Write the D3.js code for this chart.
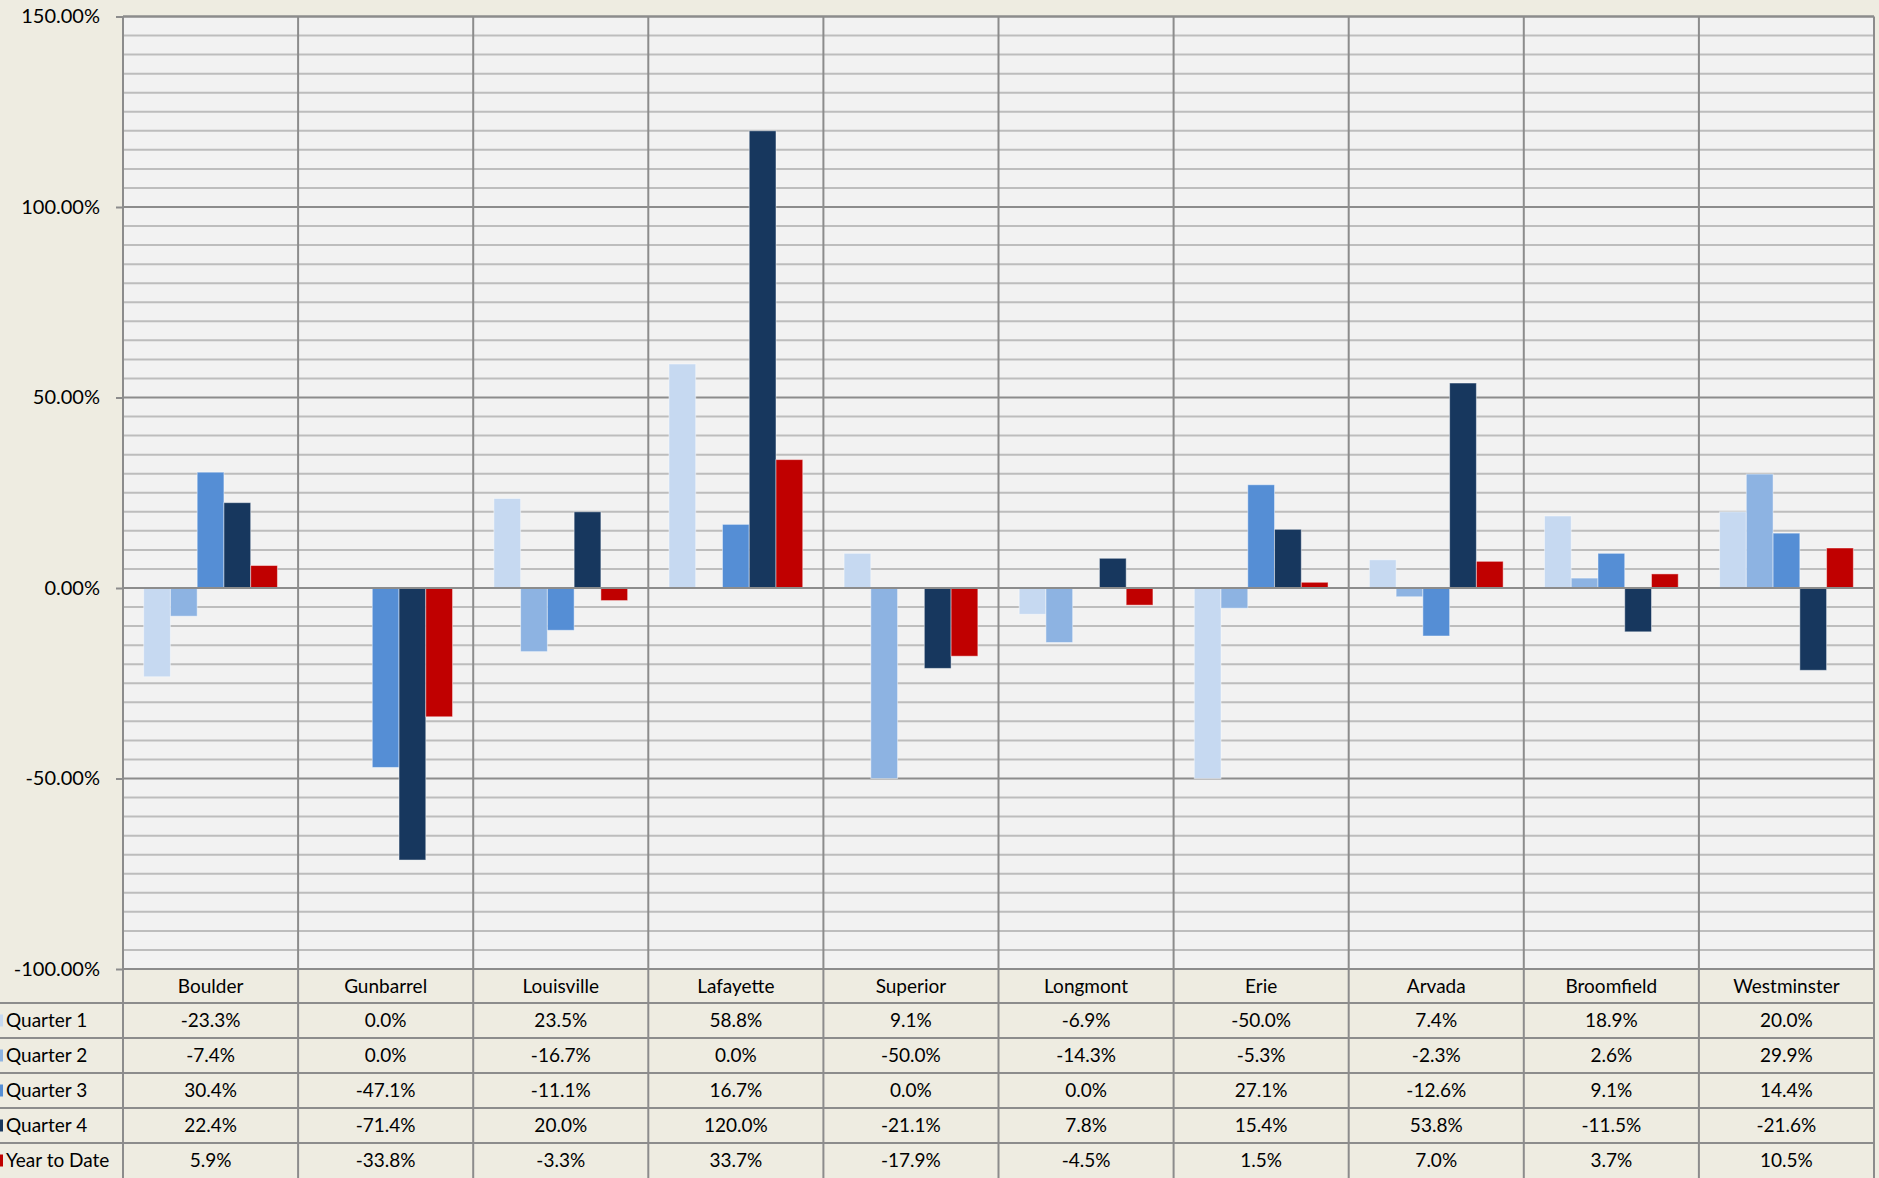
<!DOCTYPE html>
<html>
<head>
<meta charset="utf-8">
<script src="https://cdn.jsdelivr.net/npm/d3@7"></script>
<style>
	html, body { margin: 0; padding: 0; background: #eeece1; }
	svg { display: block; font-family: Lato, 'Open Sans', sans-serif; }
</style>
</head>
<body>
<svg id="chart"></svg>
<script>
const WIDTH = 1879;
const HEIGHT = 1178;

const CATEGORIES = ['Boulder', 'Gunbarrel', 'Louisville', 'Lafayette', 'Superior', 'Longmont', 'Erie', 'Arvada', 'Broomfield', 'Westminster'];
const SERIES = ['Quarter 1', 'Quarter 2', 'Quarter 3', 'Quarter 4', 'Year to Date'];
const COLORS = ['#c6d9f1', '#8db3e2', '#558ed5', '#17375e', '#c00000'];

const Q1 = [-23.3, 0.0, 23.5, 58.8, 9.1, -6.9, -50.0, 7.4, 18.9, 20.0];
const Q2 = [-7.4, 0.0, -16.7, 0.0, -50.0, -14.3, -5.3, -2.3, 2.6, 29.9];
const Q3 = [30.4, -47.1, -11.1, 16.7, 0.0, 0.0, 27.1, -12.6, 9.1, 14.4];
const Q4 = [22.4, -71.4, 20.0, 120.0, -21.1, 7.8, 15.4, 53.8, -11.5, -21.6];
const YTD = [5.9, -33.8, -3.3, 33.7, -17.9, -4.5, 1.5, 7.0, 3.7, 10.5];
const VALUES = [Q1, Q2, Q3, Q4, YTD];

const Y_TICKS = [-1, -0.5, 0, 0.5, 1, 1.5];

const plot = { left: 123, right: 1874, top: 16.5, bottom: 969 };
const HEADER_H = 34;
const ROW_H = 35;
const GRID = '#8c8c8c';
const MINOR = '#bdbdbd';
const TABLE_FONT = 19;

// excel-style hyphen minus
const locale = d3.formatLocale({ decimal: '.', thousands: ',', grouping: [3], currency: ['$', ''], minus: '-' });
const fmtTick = locale.format('.2%');
const fmtVal = locale.format('.1f');

const svg = d3.select('#chart').attr('width', WIDTH).attr('height', HEIGHT);

const x = d3.scaleBand().domain(CATEGORIES).range([plot.left, plot.right]).padding(0);
const y = d3.scaleLinear().domain([-1, 1.5]).range([plot.bottom, plot.top]);
const gap = x.bandwidth() * 0.118;
const xs = d3.scaleBand().domain(SERIES).range([gap, x.bandwidth() - gap]).padding(0);

// plot background
svg.append('rect')
	.attr('x', plot.left).attr('y', plot.top)
	.attr('width', plot.right - plot.left).attr('height', plot.bottom - plot.top)
	.attr('fill', '#f2f2f2');

// minor gridlines every 5%
const minor = d3.range(-100, 151, 5).filter(v => v % 50 !== 0).map(v => v / 100);
svg.append('g').selectAll('line').data(minor).join('line')
	.attr('x1', plot.left).attr('x2', plot.right)
	.attr('y1', d => y(d)).attr('y2', d => y(d))
	.attr('stroke', MINOR).attr('stroke-width', 2);

// major gridlines
svg.append('g').selectAll('line').data(Y_TICKS).join('line')
	.attr('x1', plot.left).attr('x2', plot.right)
	.attr('y1', d => y(d)).attr('y2', d => y(d))
	.attr('stroke', GRID).attr('stroke-width', 2);

// bars
const groups = svg.append('g').selectAll('g').data(CATEGORIES).join('g')
	.attr('transform', d => `translate(${x(d)},0)`);

groups.selectAll('rect')
	.data((c, i) => SERIES.map((s, j) => ({ s, j, v: VALUES[j][i] / 100 })))
	.join('rect')
	.attr('x', d => xs(d.s))
	.attr('width', xs.bandwidth())
	.attr('y', d => y(Math.max(0, d.v)))
	.attr('height', d => Math.abs(y(d.v) - y(0)))
	.attr('fill', d => COLORS[d.j])
	.attr('stroke', 'rgba(255,255,255,0.45)')
	.attr('stroke-width', 1);

// zero line over bars
svg.append('line')
	.attr('x1', plot.left).attr('x2', plot.right)
	.attr('y1', y(0)).attr('y2', y(0))
	.attr('stroke', GRID).attr('stroke-width', 2);

// table geometry
const tableBottom = plot.bottom + HEADER_H + ROW_H * SERIES.length;

// vertical category lines (plot + table)
const vLines = CATEGORIES.map(c => x(c)).concat([plot.right]);
svg.append('g').selectAll('line').data(vLines).join('line')
	.attr('x1', d => d).attr('x2', d => d)
	.attr('y1', plot.top).attr('y2', tableBottom)
	.attr('stroke', GRID).attr('stroke-width', 2);

// top border
svg.append('line')
	.attr('x1', plot.left).attr('x2', plot.right)
	.attr('y1', plot.top).attr('y2', plot.top)
	.attr('stroke', GRID).attr('stroke-width', 2);

// y axis
const axisY = d3.axisLeft(y)
	.tickValues(Y_TICKS)
	.tickFormat(fmtTick)
	.tickSize(7)
	.tickPadding(16);

const gy = svg.append('g')
	.attr('transform', `translate(${plot.left},0)`)
	.call(axisY);
gy.select('.domain').remove();
gy.selectAll('.tick line').attr('stroke', GRID).attr('stroke-width', 2);
gy.selectAll('.tick text')
	.attr('font-size', 20)
	.attr('fill', '#000')
	.attr('font-family', 'Lato, sans-serif');

// table rows
const rowY = SERIES.map((s, j) => plot.bottom + HEADER_H + ROW_H * j);
svg.append('g').selectAll('line').data(rowY).join('line')
	.attr('x1', 0).attr('x2', plot.right)
	.attr('y1', d => d).attr('y2', d => d)
	.attr('stroke', GRID).attr('stroke-width', 2);

// header labels
svg.append('g').selectAll('text').data(CATEGORIES).join('text')
	.attr('x', d => x(d) + x.bandwidth() / 2)
	.attr('y', plot.bottom + HEADER_H / 2)
	.attr('dy', '0.35em')
	.attr('text-anchor', 'middle')
	.attr('font-size', TABLE_FONT)
	.attr('fill', '#000')
	.text(d => d);

// legend keys and row labels
const rows = svg.append('g').selectAll('g').data(SERIES).join('g')
	.attr('transform', (d, j) => `translate(0,${rowY[j]})`);

rows.append('rect')
	.attr('x', 0).attr('y', ROW_H / 2 - 6)
	.attr('width', 3).attr('height', 12)
	.attr('fill', (d, j) => COLORS[j]);

rows.append('text')
	.attr('x', 6).attr('y', ROW_H / 2)
	.attr('dy', '0.35em')
	.attr('font-size', TABLE_FONT)
	.attr('fill', '#000')
	.text(d => d);

rows.selectAll('text.val')
	.data((s, j) => VALUES[j].map((v, i) => ({ v, c: CATEGORIES[i] })))
	.join('text')
	.attr('class', 'val')
	.attr('x', d => x(d.c) + x.bandwidth() / 2)
	.attr('y', ROW_H / 2)
	.attr('dy', '0.35em')
	.attr('text-anchor', 'middle')
	.attr('font-size', TABLE_FONT)
	.attr('fill', '#000')
	.text(d => fmtVal(d.v) + '%');
</script>
</body>
</html>
